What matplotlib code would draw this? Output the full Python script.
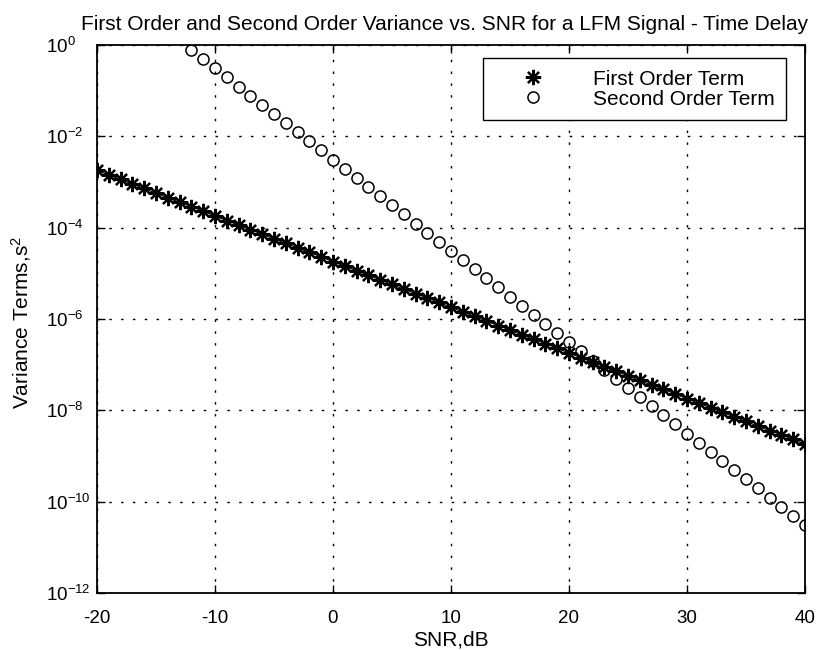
import numpy as np
import matplotlib
matplotlib.use('Agg')
import matplotlib.pyplot as plt

plt.rcParams['font.family'] = 'Liberation Sans'
plt.rcParams['mathtext.fontset'] = 'custom'
plt.rcParams['mathtext.rm'] = 'Liberation Sans'
plt.rcParams['mathtext.default'] = 'regular'
plt.rcParams['axes.unicode_minus'] = False

# SNR in dB, one point per dB
snr1 = np.arange(-20, 41)
snr2 = np.arange(-12, 41)

# first order variance term (s^2)
first_order = [
    1.8e-3,
    1.43e-3, 1.14e-3, 9.0e-4, 7.2e-4, 5.7e-4, 4.5e-4, 3.6e-4, 2.9e-4, 2.3e-4, 1.8e-4,
    1.43e-4, 1.14e-4, 9.0e-5, 7.2e-5, 5.7e-5, 4.5e-5, 3.6e-5, 2.9e-5, 2.3e-5, 1.8e-5,
    1.43e-5, 1.14e-5, 9.0e-6, 7.2e-6, 5.7e-6, 4.5e-6, 3.6e-6, 2.9e-6, 2.3e-6, 1.8e-6,
    1.43e-6, 1.14e-6, 9.0e-7, 7.2e-7, 5.7e-7, 4.5e-7, 3.6e-7, 2.9e-7, 2.3e-7, 1.8e-7,
    1.43e-7, 1.14e-7, 9.0e-8, 7.2e-8, 5.7e-8, 4.5e-8, 3.6e-8, 2.9e-8, 2.3e-8, 1.8e-8,
    1.43e-8, 1.14e-8, 9.0e-9, 7.2e-9, 5.7e-9, 4.5e-9, 3.6e-9, 2.9e-9, 2.3e-9, 1.8e-9,
]

# second order variance term (s^2), starts at -12 dB (clipped above 1)
second_order = [
    7.8e-1, 4.9e-1,
    3.1e-1, 1.96e-1, 1.23e-1, 7.8e-2, 4.9e-2, 3.1e-2, 1.96e-2, 1.23e-2, 7.8e-3, 4.9e-3,
    3.1e-3, 1.96e-3, 1.23e-3, 7.8e-4, 4.9e-4, 3.1e-4, 1.96e-4, 1.23e-4, 7.8e-5, 4.9e-5,
    3.1e-5, 1.96e-5, 1.23e-5, 7.8e-6, 4.9e-6, 3.1e-6, 1.96e-6, 1.23e-6, 7.8e-7, 4.9e-7,
    3.1e-7, 1.96e-7, 1.23e-7, 7.8e-8, 4.9e-8, 3.1e-8, 1.96e-8, 1.23e-8, 7.8e-9, 4.9e-9,
    3.1e-9, 1.96e-9, 1.23e-9, 7.8e-10, 4.9e-10, 3.1e-10, 1.96e-10, 1.23e-10, 7.8e-11, 4.9e-11,
    3.1e-11,
]

fig = plt.figure(figsize=(8.17, 6.5), dpi=100)
ax = fig.add_axes([0.1187, 0.0877, 0.8666, 0.8431])

ax.plot(snr1, first_order, color='k', linewidth=0.9)
ax.plot(snr1, first_order, linestyle='none', marker=(8, 2, 0), markersize=11,
        markeredgewidth=1.6, color='k', label='First Order Term')
ax.plot(snr2, second_order, linestyle='none', marker='o', markersize=8,
        markerfacecolor='none', markeredgecolor='k', markeredgewidth=1.1,
        label='Second Order Term')

ax.set_yscale('log')
ax.set_xlim(-20, 40)
ax.set_ylim(1e-12, 1e0)
ax.set_xticks([-20, -10, 0, 10, 20, 30, 40])
ax.set_yticks([1e-12, 1e-10, 1e-8, 1e-6, 1e-4, 1e-2, 1e0])
ax.yaxis.set_minor_locator(matplotlib.ticker.NullLocator())
ax.grid(True, color='k', linewidth=1.0, linestyle=(0, (1.8, 6.7)))
ax.tick_params(direction='in', top=True, right=True, length=6, width=1.0,
               labelsize=13.5)
ax.tick_params(axis='x', pad=12)
ax.tick_params(axis='y', pad=37)
for lab in ax.get_yticklabels():
    lab.set_horizontalalignment('left')
for sp in ax.spines.values():
    sp.set_linewidth(1.3)

ax.set_xlabel('SNR,dB', fontsize=15)
ax.xaxis.set_label_coords(0.5, -0.068)
ax.set_ylabel('Variance Terms,s$^2$', fontsize=15)
ax.yaxis.set_label_coords(-0.090, 0.494)
title = ax.set_title('First Order and Second Order Variance vs. SNR for a LFM Signal - Time Delay',
                     fontsize=15, pad=11)
title.set_x(0.4915)

leg = ax.legend(loc='upper right', bbox_to_anchor=(0.973, 0.976), borderaxespad=0,
                fontsize=15, frameon=True, fancybox=False, edgecolor='k',
                framealpha=1, borderpad=0.55, handletextpad=1.05, labelspacing=0.05,
                handlelength=3.65)
leg.get_frame().set_linewidth(1.0)

fig.savefig('out.png', dpi=100)
